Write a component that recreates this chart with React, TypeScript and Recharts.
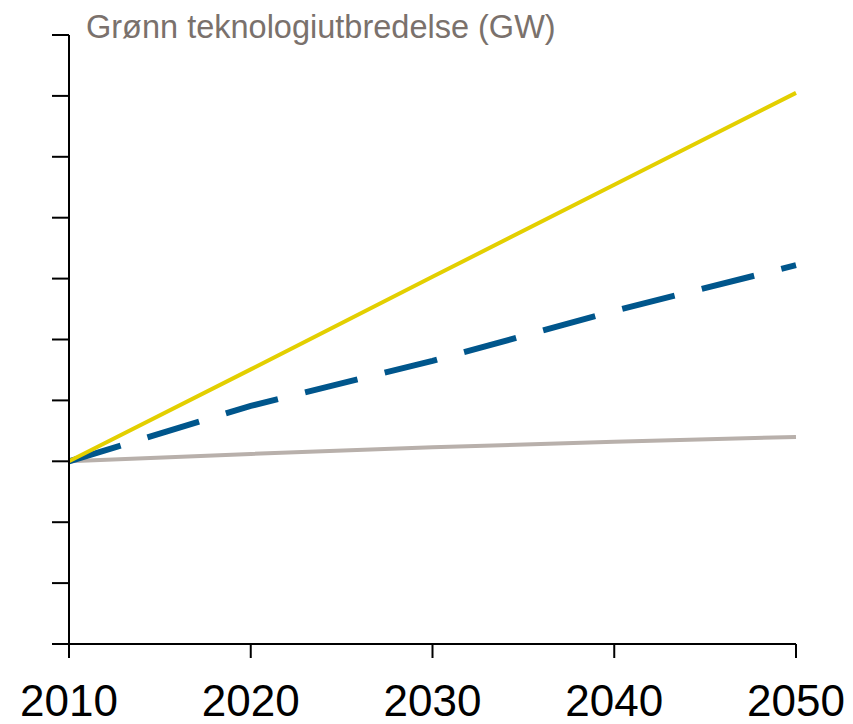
import { LineChart, Line, XAxis, YAxis } from "recharts";

const years = [2010, 2020, 2030, 2040, 2050];
const yellowSeries = [3.0, 4.51, 6.03, 7.54, 9.05];
const blueSeries = [3.0, 3.91, 4.65, 5.47, 6.22];
const graySeries = [3.0, 3.12, 3.23, 3.32, 3.4];
const yTicks = [0, 1, 2, 3, 4, 5, 6, 7, 8, 9, 10];
const title = "Grønn teknologiutbredelse (GW)";

const data = years.map((year, i) => ({
  year,
  yellow: yellowSeries[i],
  blue: blueSeries[i],
  gray: graySeries[i],
}));

const font = "'Liberation Sans', Arial, sans-serif";

export default function App() {
  return (
    <div style={{ position: "absolute", left: 0, top: 0, background: "#fff" }}>
      <LineChart
        width={853}
        height={724}
        data={data}
        margin={{ top: 35, right: 57, bottom: 0, left: 0 }}
      >
        <XAxis
          dataKey="year"
          type="number"
          domain={[2010, 2050]}
          ticks={years}
          height={80}
          tickSize={14}
          tickMargin={27}
          axisLine={{ stroke: "#000", strokeWidth: 2 }}
          tickLine={{ stroke: "#000", strokeWidth: 2 }}
          tick={{ fill: "#000", fontSize: 44, fontFamily: font }}
          interval={0}
        />
        <YAxis
          type="number"
          domain={[0, 10]}
          ticks={yTicks}
          width={69}
          tickSize={17}
          tickFormatter={() => ""}
          interval={0}
          axisLine={{ stroke: "#000", strokeWidth: 2 }}
          tickLine={{ stroke: "#000", strokeWidth: 2 }}
        />
        <Line
          dataKey="gray"
          stroke="#b8b0ab"
          strokeWidth={4}
          dot={false}
          isAnimationActive={false}
        />
        <Line
          dataKey="blue"
          stroke="#00568c"
          strokeWidth={6}
          strokeDasharray="54 28"
          dot={false}
          isAnimationActive={false}
        />
        <Line
          dataKey="yellow"
          stroke="#e3cf00"
          strokeWidth={4}
          dot={false}
          isAnimationActive={false}
        />
        <text x={86} y={38} fill="#7a716c" fontSize={32.5} fontFamily={font}>
          {title}
        </text>
      </LineChart>
    </div>
  );
}
